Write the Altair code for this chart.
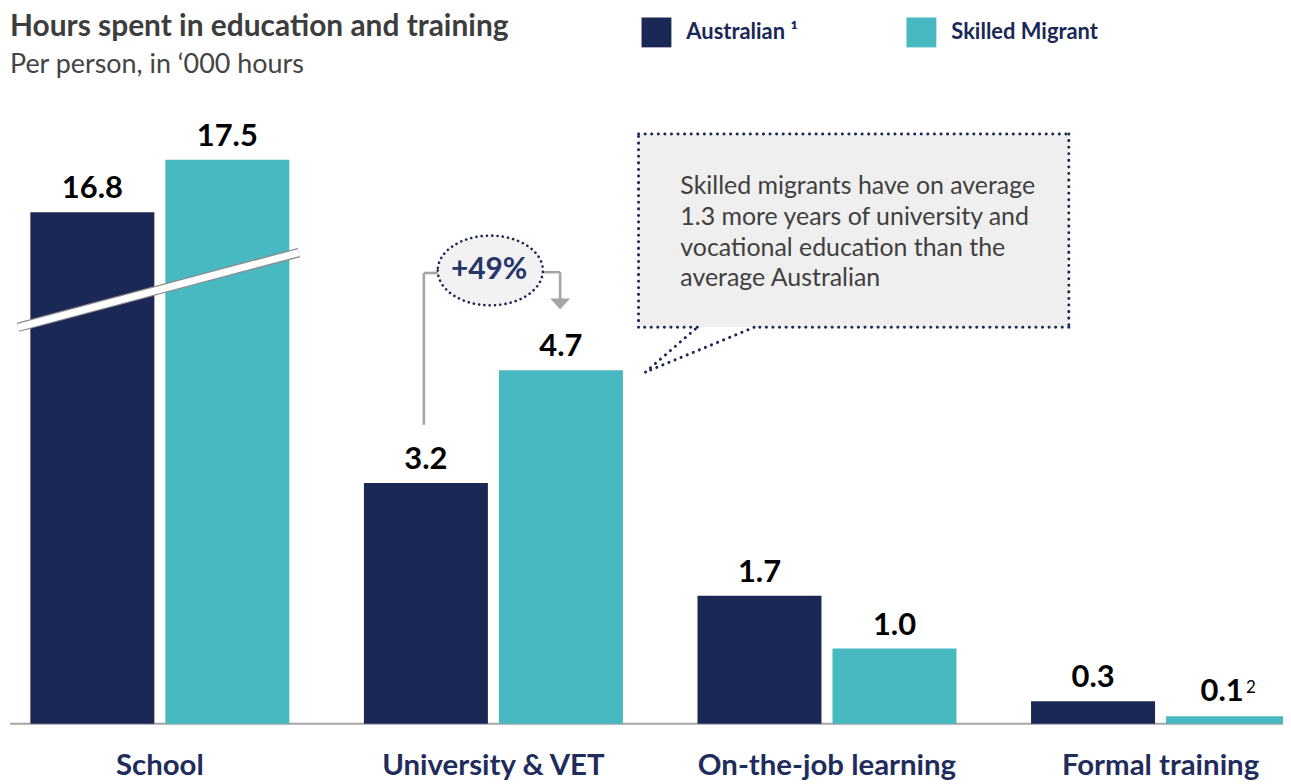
import altair as alt
import pandas as pd

# ---------------- data ----------------
categories = ["School", "University & VET", "On-the-job learning", "Formal training"]
series = ["Australian", "Skilled Migrant"]
australian = [16.8, 3.2, 1.7, 0.3]
skilled_migrant = [17.5, 4.7, 1.0, 0.1]
skilled_notes = ["", "", "", "2"]
school_axis_break = 10.0  # thousand hours cut out of the School bars (broken axis)

title_text = "Hours spent in education and training"
subtitle_text = "Per person, in \u2018000 hours"
callout_lines = [
    "Skilled migrants have on average",
    "1.3 more years of university and",
    "vocational education than the",
    "average Australian",
]
growth_text = "+49%"

rows = []
for i, c in enumerate(categories):
    rows.append({"category": c, "series": series[0], "value": australian[i], "note": ""})
    rows.append({"category": c, "series": series[1], "value": skilled_migrant[i], "note": skilled_notes[i]})
df = pd.DataFrame(rows)
one = pd.DataFrame({"k": [0]})

# ---------------- style ----------------
NAVY = "#1b2856"
TEAL = "#48b9c1"
GRAY_LINE = "#a5a5a5"
FONT = "Lato"
W, H = 1280, 717
PX_PER_UNIT = 75.5

x_enc = alt.X(
    "category:N",
    sort=categories,
    scale=alt.Scale(range=[-15.0, 1324.5], paddingInner=0.2236, paddingOuter=0.1118),
    axis=alt.Axis(
        title=None, domain=False, ticks=False, tickSize=0, labelAngle=0,
        labelFont=FONT, labelFontSize=29.5, labelFontWeight="bold", labelColor="#1f2c5c",
        labelBaseline="alphabetic", labelPadding=51, labelLimit=500,
    ),
)
xo_enc = alt.XOffset("series:N", sort=series, scale=alt.Scale(paddingInner=0.0815, paddingOuter=0))
y_enc = alt.Y("shown:Q", scale=alt.Scale(domain=[0, H / PX_PER_UNIT], nice=False, zero=True), axis=None)

base = alt.Chart(df).transform_calculate(
    shown=f"datum.category == 'School' ? datum.value - {school_axis_break} : datum.value"
)

axis_line = alt.Chart(one).mark_rule(color=GRAY_LINE, strokeWidth=2).encode(
    x=alt.value(2), x2=alt.value(1283), y=alt.value(H)
)

bars = base.mark_bar().encode(
    x=x_enc, xOffset=xo_enc, y=y_enc,
    color=alt.Color(
        "series:N",
        scale=alt.Scale(domain=series, range=[NAVY, TEAL]),
        legend=alt.Legend(
            orient="none", legendX=636, legendY=8, direction="horizontal", title=None,
            symbolType="square", symbolSize=900, symbolStrokeWidth=0, symbolOpacity=1,
            labelFont=FONT, labelFontSize=22, labelFontWeight="bold", labelColor=NAVY,
            labelOffset=15, columnPadding=109, padding=0,
            labelExpr="datum.label == 'Australian' ? 'Australian \u00b9' : datum.label",
        ),
    ),
)

value_labels = base.transform_filter("datum.note == ''").mark_text(
    font=FONT, fontSize=31, fontWeight="bold", color="black", baseline="alphabetic", dy=-14
).encode(x=x_enc, xOffset=xo_enc, y=y_enc, text=alt.Text("value:Q", format=".1f"))

noted_labels = base.transform_filter("datum.note != ''").mark_text(
    font=FONT, fontSize=31, fontWeight="bold", color="black", baseline="alphabetic", dy=-15, dx=-6
).encode(x=x_enc, xOffset=xo_enc, y=y_enc, text=alt.Text("value:Q", format=".1f"))

note_marks = base.transform_filter("datum.note != ''").mark_text(
    font=FONT, fontSize=17, color="black", align="left", baseline="alphabetic", dy=-23, dx=18
).encode(x=x_enc, xOffset=xo_enc, y=y_enc, text="note:N")

# broken-axis band across the School bars
break_gray = alt.Chart(one).mark_rule(color="#8c8c8c", strokeWidth=9.5).encode(
    x=alt.value(10), y=alt.value(319), x2=alt.value(292), y2=alt.value(244)
)
break_white = alt.Chart(one).mark_rule(color="white", strokeWidth=7).encode(
    x=alt.value(10), y=alt.value(319), x2=alt.value(292), y2=alt.value(244)
)

# title and subtitle
title = alt.Chart(one).mark_text(
    font=FONT, fontSize=30, fontWeight="bold", color="#3d3d3d", align="left", baseline="alphabetic"
).encode(x=alt.value(2), y=alt.value(27), text=alt.value(title_text))
subtitle = alt.Chart(one).mark_text(
    font=FONT, fontSize=27, color="#444444", align="left", baseline="alphabetic"
).encode(x=alt.value(2), y=alt.value(64), text=alt.value(subtitle_text))

# call-out box
box_fill = alt.Chart(one).mark_rect(color="#efefef").encode(
    x=alt.value(633), x2=alt.value(1065), y=alt.value(125), y2=alt.value(319)
)
outline = [(633, 125), (1065, 125), (1065, 319), (749, 319), (640, 364), (692, 319), (633, 319), (633, 125)]
box_edges = []
for (xa, ya), (xb, yb) in zip(outline[:-1], outline[1:]):
    box_edges.append(
        alt.Chart(one).mark_rule(color=NAVY, strokeWidth=3, strokeDash=[0.1, 6.5], strokeCap="round").encode(
            x=alt.value(xa), y=alt.value(ya), x2=alt.value(xb), y2=alt.value(yb)
        )
    )
callout = alt.Chart(one).mark_text(
    font=FONT, fontSize=25, color="#404040", align="left", baseline="alphabetic", lineHeight=31
).encode(x=alt.value(675), y=alt.value(185), text=alt.value(callout_lines))

# +49% connector
conn_segments = [
    ((417.5, 417), (417.5, 264.5)),
    ((417.5, 264.5), (432, 264.5)),
    ((536, 263.7), (554.3, 263.7)),
    ((554.3, 263.7), (554.3, 291)),
]
connectors = [
    alt.Chart(one).mark_rule(color=GRAY_LINE, strokeWidth=2.6).encode(
        x=alt.value(a[0]), y=alt.value(a[1]), x2=alt.value(b[0]), y2=alt.value(b[1])
    )
    for a, b in conn_segments
]
arrow_head = alt.Chart(one).mark_point(
    shape="M -1 -0.55 L 1 -0.55 L 0 0.55 Z", size=400, filled=True, color=GRAY_LINE, opacity=1
).encode(x=alt.value(554.3), y=alt.value(295.5))

ellipse = alt.Chart(one).mark_point(
    shape="M -1 0 A 1 0.663 0 1 0 1 0 A 1 0.663 0 1 0 -1 0 Z",
    size=11150, filled=True, fill="#f2f2f2", stroke=NAVY, strokeWidth=2.6,
    strokeDash=[0.1, 5.2], strokeCap="round", opacity=1, fillOpacity=1, strokeOpacity=1,
).encode(x=alt.value(484.2), y=alt.value(262))
growth = alt.Chart(one).mark_text(
    font=FONT, fontSize=30, fontWeight="bold", color="#26356a", baseline="alphabetic"
).encode(x=alt.value(483), y=alt.value(271), text=alt.value(growth_text))

chart = alt.layer(
    axis_line, bars, value_labels, noted_labels, note_marks, break_gray, break_white,
    title, subtitle, box_fill, *box_edges, callout, *connectors, arrow_head, ellipse, growth,
).properties(
    width=W, height=H, autosize="none", background="white",
    padding={"left": 0, "top": 0, "right": 0, "bottom": 60},
).configure_view(stroke=None)

chart.save("out.html", embed_options={"renderer": "svg", "actions": False})
